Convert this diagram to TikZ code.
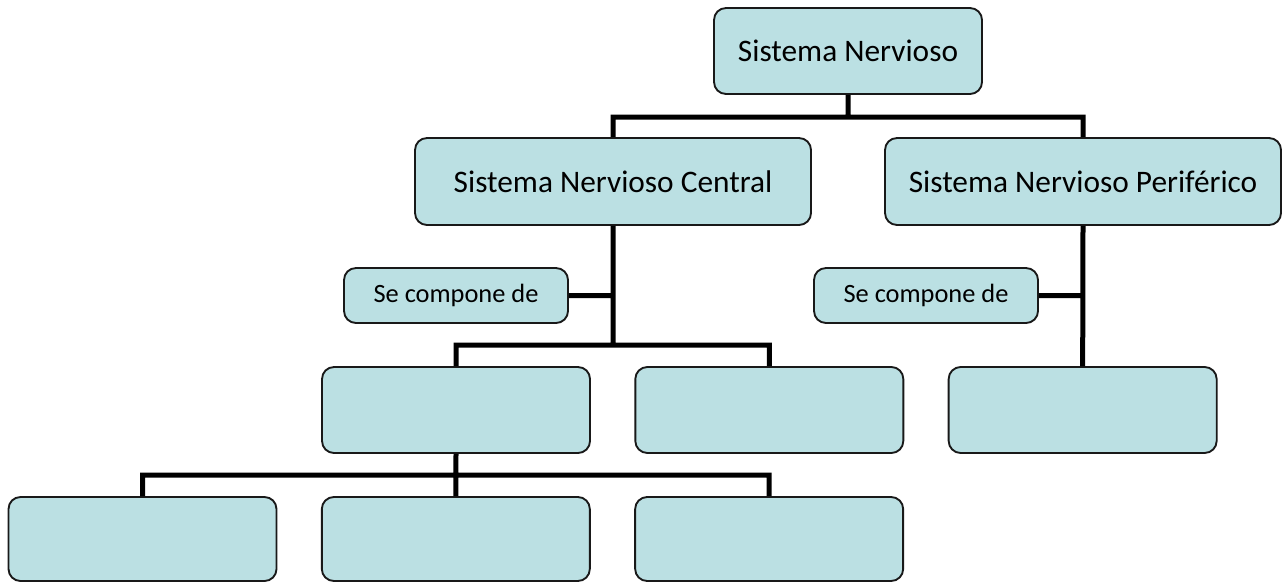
\documentclass[tikz,border=0pt]{standalone}
\usepackage{fontspec}
\setmainfont{Carlito}
\usepackage{tikz}
\usetikzlibrary{positioning}
\definecolor{celeste}{HTML}{BBE0E3}

\begin{document}
\begin{tikzpicture}[x=0.75pt,y=-0.75pt,node distance=235pt,line join=miter]
  \tikzstyle{caja}=[draw=black!90,fill=celeste,line width=1.4pt,rounded corners=9pt,
                    minimum width=201pt,minimum height=64.5pt,inner sep=0pt,
                    font=\fontsize{23.5pt}{28pt}\selectfont]
  \tikzstyle{grande}=[caja,minimum width=297pt,minimum height=65.25pt]
  \tikzstyle{chica}=[caja,minimum width=168pt,minimum height=41.25pt,
                     font=\fontsize{19.8pt}{24pt}\selectfont]
  \tikzstyle{enlace}=[draw=black,line width=3.75pt]

  \useasboundingbox (0,0) rectangle (1288,582);

  % conectores
  \coordinate (bus1) at (848,117);
  \coordinate (bus2) at (613,345);
  \coordinate (bus3) at (456,475);

  \node[caja]  (SN)   at (848,51)     {Sistema Nervioso};
  \node[grande] (SNC) at (613,181.5)  {Sistema Nervioso Central};
  \node[grande] (SNP) at (1083,181.5) {Sistema Nervioso Periférico};

  \node[chica] (SC1) at (456,295.5) {Se compone de};
  \node[chica] (SC2) at (926,295.5) {Se compone de};

  \node[caja]  (M1) at (456,410) {};
  \node[caja]  (M2) [right of=M1] {};
  \node[caja]  (M3) [right of=M2] {};

  \node[caja,minimum height=63pt] (B1) at (142.5,539) {};
  \node[caja,minimum height=63pt] (B2) [right of=B1] {};
  \node[caja,minimum height=63pt] (B3) [right of=B2] {};

  \path[enlace] (SN.south) -- (bus1)
        (SNC.north) |- (bus1) -| (SNP.north)
        (SNC.south) -- (bus2)
        (SC1.east) -- (SC1.east -| SNC.south)
        (M1.north) |- (bus2) -| (M2.north)
        (SNP.south) -- (M3.north)
        (SC2.east) -- (SC2.east -| SNP.south)
        (M1.south) -- (B2.north)
        (B1.north) |- (bus3) -| (B3.north);
\end{tikzpicture}
\end{document}
